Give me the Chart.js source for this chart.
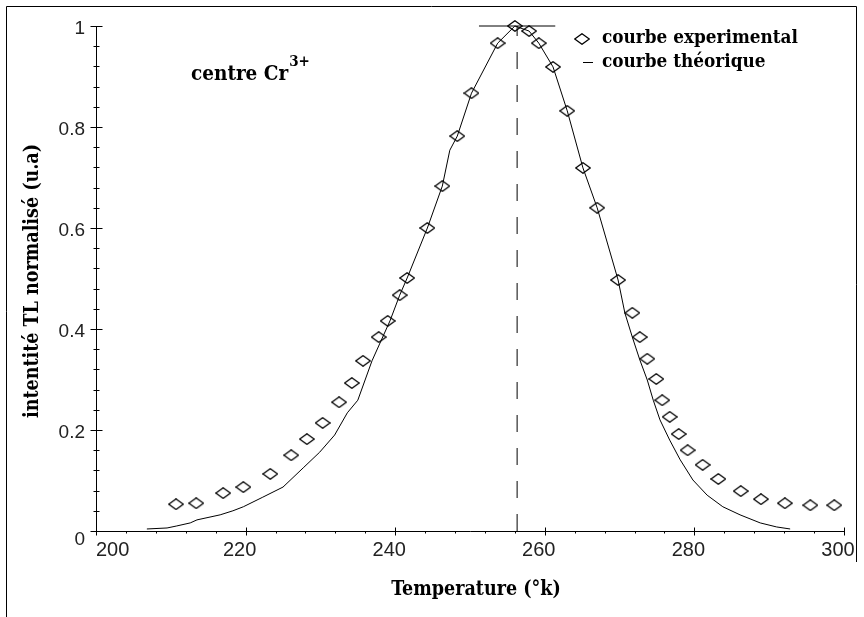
<!DOCTYPE html>
<html>
<head>
<meta charset="utf-8">
<script src="https://cdn.jsdelivr.net/npm/chart.js@4/dist/chart.umd.min.js"></script>
<style>
  html, body { margin: 0; padding: 0; background: #fff; }
  #wrap { width: 864px; height: 617px; position: relative; }
</style>
</head>
<body>
<div id="wrap"><canvas id="c" width="864" height="617"></canvas></div>
<script>
// Thermoluminescence glow peak of the Cr3+ centre (normalised intensity vs temperature)
const expTemps = [210.7, 213.4, 217.0, 219.7, 223.3, 226.1, 228.2, 230.3, 232.5, 234.2,
  235.7, 237.8, 239.0, 240.6, 241.6, 244.3, 246.3, 248.3, 250.2, 253.7,
  256.0, 257.9, 259.2, 261.1, 263.0, 265.1, 267.0, 269.8, 271.7, 272.7,
  273.7, 274.9, 275.7, 276.7, 277.9, 279.1, 281.1, 283.2, 286.2, 288.9,
  292.1, 295.5, 298.7];
const expIntens = [0.053, 0.055, 0.075, 0.087, 0.113, 0.150, 0.182, 0.214, 0.255, 0.293,
  0.337, 0.384, 0.416, 0.467, 0.501, 0.600, 0.683, 0.782, 0.867, 0.966,
  1.000, 0.990, 0.966, 0.919, 0.832, 0.719, 0.640, 0.497, 0.432, 0.384,
  0.341, 0.301, 0.259, 0.226, 0.192, 0.160, 0.131, 0.103, 0.079, 0.063,
  0.055, 0.051, 0.051];

const theoTemps = [206.8, 209.5, 210.8, 212.6, 213.5, 216.6, 218.3, 219.7, 222.3, 225.0,
  227.7, 229.9, 231.9, 233.6, 235.0, 236.9, 239.3, 240.6, 241.6, 244.3,
  246.3, 247.3, 248.3, 250.2, 253.7, 256.0, 257.9, 259.2, 261.1, 263.0,
  265.1, 267.0, 269.8, 270.7, 271.7, 272.7, 273.7, 274.5, 275.4, 276.7,
  278.1, 279.8, 281.7, 283.8, 286.1, 288.8, 291.0, 292.8];
const theoIntens = [0.004, 0.006, 0.010, 0.016, 0.022, 0.032, 0.040, 0.048, 0.067, 0.087,
  0.125, 0.156, 0.190, 0.234, 0.259, 0.337, 0.416, 0.467, 0.501, 0.600,
  0.683, 0.754, 0.782, 0.867, 0.966, 1.000, 0.990, 0.966, 0.919, 0.832,
  0.719, 0.640, 0.497, 0.432, 0.384, 0.339, 0.299, 0.259, 0.220, 0.180,
  0.141, 0.101, 0.071, 0.048, 0.032, 0.016, 0.008, 0.004];

// Peak position marker
const peakTemp = 256.3;
const peakBarTemps = [251.2, 261.4];
const peakLevel = 1;

const xTickValues = [200, 220, 240, 260, 280, 300];
const xTickLabels = ['200', '220', '240', '260', '280', '300'];
const yTickValues = [0, 0.2, 0.4, 0.6, 0.8, 1];
const yTickLabels = ['0', '0.2', '0.4', '0.6', '0.8', '1'];
const xMinorStep = 4;
const yMinorStep = 0.04;

const SERIF = '"DejaVu Serif Condensed", "DejaVu Serif", "Liberation Serif", serif';
const SANS = '"Liberation Sans", Arial, sans-serif';

// Hollow diamond marker
function makeDiamond() {
  const cv = document.createElement('canvas');
  cv.width = 16; cv.height = 12;
  const g = cv.getContext('2d');
  g.strokeStyle = '#000';
  g.lineWidth = 1.25;
  g.beginPath();
  g.moveTo(8, 0.7);
  g.lineTo(15.3, 6);
  g.lineTo(8, 11.3);
  g.lineTo(0.7, 6);
  g.closePath();
  g.stroke();
  return cv;
}
const diamond = makeDiamond();

const expPoints = expTemps.map((t, i) => ({ x: t, y: expIntens[i] }));
const theoPoints = theoTemps.map((t, i) => ({ x: t, y: theoIntens[i] }));

const frameAndAxes = {
  id: 'frameAndAxes',
  afterDraw(chart) {
    const ctx = chart.ctx;
    const xs = chart.scales.x, ys = chart.scales.y;
    const x0 = Math.round(xs.getPixelForValue(200)) + 0.5;
    const y0 = Math.round(ys.getPixelForValue(0)) + 0.5;
    const xEnd = xs.getPixelForValue(300);
    const yTop = ys.getPixelForValue(1);
    ctx.save();
    ctx.strokeStyle = '#000';
    ctx.lineWidth = 1;

    // outer frame
    ctx.beginPath();
    ctx.moveTo(6.5, 617);
    ctx.lineTo(6.5, 6.5);
    ctx.lineTo(856.5, 6.5);
    ctx.lineTo(856.5, 562);
    ctx.stroke();

    // axis lines
    ctx.beginPath();
    ctx.moveTo(x0, yTop);
    ctx.lineTo(x0, y0);
    ctx.lineTo(xEnd, y0);
    ctx.stroke();

    // x ticks
    ctx.beginPath();
    for (let v = 200; v <= 300 + 1e-9; v += xMinorStep) {
      const px = Math.round(xs.getPixelForValue(v)) + 0.5;
      const major = xTickValues.some(m => Math.abs(m - v) < 1e-6);
      ctx.moveTo(px, y0 - (major ? 4 : 0));
      ctx.lineTo(px, y0 + (major ? 4 : 2));
    }
    // y ticks
    for (let k = 0; k <= 25; k++) {
      const v = k * yMinorStep;
      const py = Math.round(ys.getPixelForValue(v)) + 0.5;
      const major = k % 5 === 0;
      ctx.moveTo(x0 - (major ? 6 : 3), py);
      ctx.lineTo(x0 + (major ? 6 : 3), py);
    }
    ctx.stroke();

    // tick labels
    ctx.fillStyle = '#222';
    ctx.font = '20px ' + SANS;
    ctx.textBaseline = 'middle';
    xTickValues.forEach((v, i) => {
      const px = xs.getPixelForValue(v);
      if (i === 0) { ctx.textAlign = 'left'; ctx.fillText(xTickLabels[i], px, 550); }
      else { ctx.textAlign = 'center'; ctx.fillText(xTickLabels[i], px - 6, 550); }
    });
    ctx.font = '19px ' + SANS;
    ctx.textAlign = 'right';
    yTickValues.forEach((v, i) => {
      const py = ys.getPixelForValue(v);
      ctx.fillText(yTickLabels[i], 85, py + (i === 0 ? 9 : 3));
    });

    // axis titles
    ctx.fillStyle = '#000';
    ctx.font = 'bold 19.5px ' + SERIF;
    ctx.textAlign = 'center';
    ctx.fillText('Temperature (°k)', 476, 590);
    ctx.save();
    ctx.translate(33, 281);
    ctx.rotate(-Math.PI / 2);
    ctx.font = 'bold 19.5px ' + SERIF;
    ctx.fillText('intentité TL normalisé (u.a)', 0, 0);
    ctx.restore();

    // annotation
    ctx.textAlign = 'left';
    ctx.font = 'bold 20.5px ' + SERIF;
    ctx.fillText('centre Cr', 191, 75);
    const w = ctx.measureText('centre Cr').width;
    ctx.font = 'bold 15px ' + SERIF;
    ctx.fillText('3+', 191 + w + 1, 62);

    // legend
    ctx.drawImage(diamond, 574, 33);
    ctx.beginPath();
    ctx.moveTo(583, 62.5);
    ctx.lineTo(593, 62.5);
    ctx.stroke();
    ctx.font = 'bold 18.8px ' + SERIF;
    ctx.fillText('courbe experimental', 602, 38);
    ctx.fillText('courbe théorique', 602, 62);
    ctx.restore();
  }
};

new Chart(document.getElementById('c'), {
  type: 'scatter',
  data: {
    datasets: [
      {
        label: 'courbe experimental',
        data: expPoints,
        showLine: false,
        pointStyle: diamond,
        pointRadius: 7,
        clip: false
      },
      {
        label: 'courbe théorique',
        data: theoPoints,
        showLine: true,
        borderColor: '#000',
        borderWidth: 1,
        pointRadius: 0,
        tension: 0,
        clip: false
      },
      {
        label: 'peak',
        data: [{ x: peakTemp, y: 0 }, { x: peakTemp, y: peakLevel }],
        showLine: true,
        borderColor: '#000',
        borderWidth: 1,
        borderDash: [17, 16],
        pointRadius: 0,
        clip: false
      },
      {
        label: 'peak level',
        data: [{ x: peakBarTemps[0], y: peakLevel }, { x: peakBarTemps[1], y: peakLevel }],
        showLine: true,
        borderColor: '#000',
        borderWidth: 1,
        pointRadius: 0,
        clip: false
      }
    ]
  },
  options: {
    responsive: false,
    animation: false,
    events: [],
    layout: { padding: { left: 0, top: 26, right: 20, bottom: 0 } },
    plugins: { legend: { display: false }, tooltip: { enabled: false } },
    scales: {
      x: {
        type: 'linear', min: 200, max: 300,
        grid: { display: false }, border: { display: false },
        ticks: { display: false },
        afterFit(s) { s.height = 86; }
      },
      y: {
        type: 'linear', min: 0, max: 1,
        grid: { display: false }, border: { display: false },
        ticks: { display: false },
        afterFit(s) { s.width = 96; }
      }
    }
  },
  plugins: [frameAndAxes]
});
</script>
</body>
</html>
